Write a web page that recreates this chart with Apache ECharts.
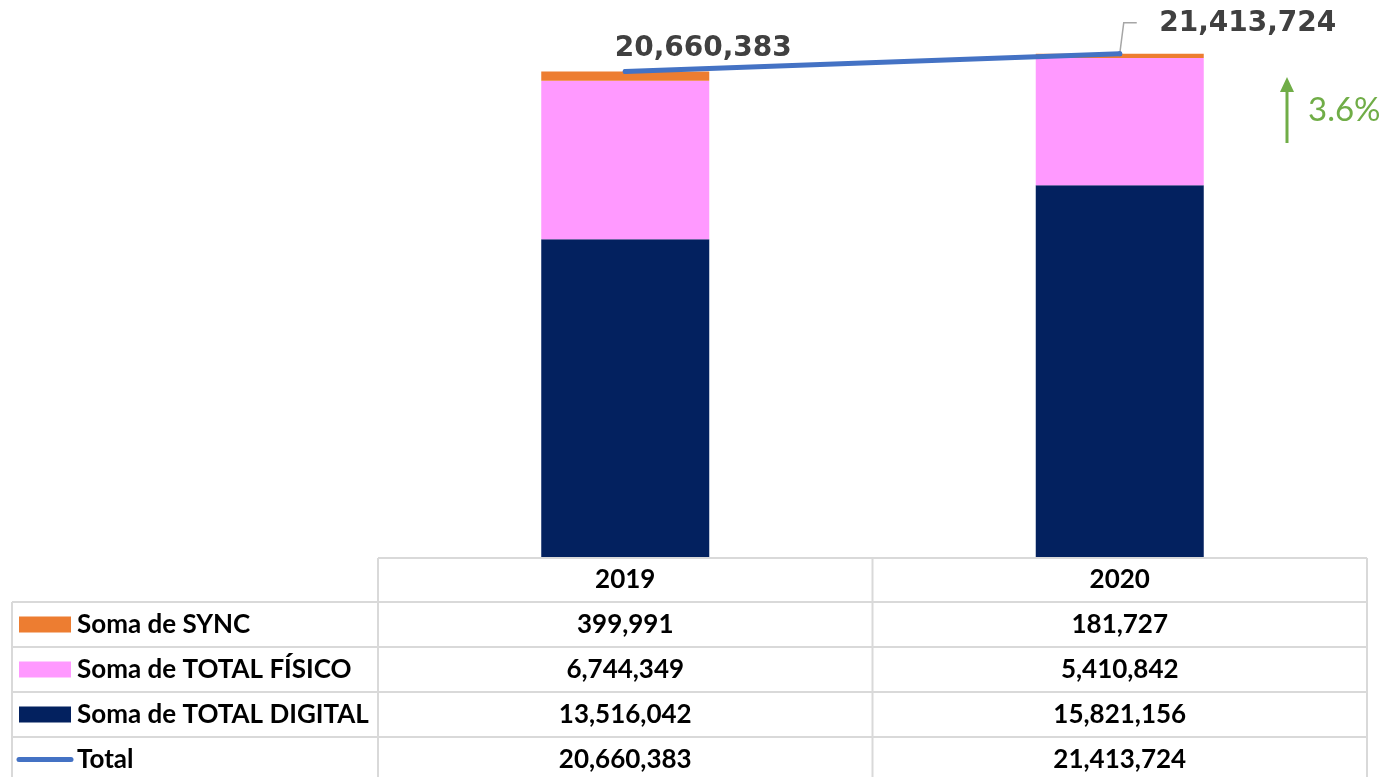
<!DOCTYPE html>
<html>
<head>
<meta charset="utf-8">
<style>
  html, body { margin: 0; padding: 0; background: #fff; }
  #main { width: 1385px; height: 777px; }
</style>
<script src="https://cdn.jsdelivr.net/npm/echarts@6/dist/echarts.min.js"></script>
</head>
<body>
<div id="main"></div>
<script>
var years = ['2019', '2020'];
var sync = [399991, 181727];
var fisico = [6744349, 5410842];
var digital = [13516042, 15821156];
var total = [20660383, 21413724];
var growth = '3.6%';
var rowNames = ['Soma de SYNC', 'Soma de TOTAL FÍSICO', 'Soma de TOTAL DIGITAL', 'Total'];

var colors = {
  sync: '#ED7D31',
  fisico: '#FF99FF',
  digital: '#03215F',
  total: '#4472C4'
};

function fmt(v) {
  return v.toLocaleString('en-US');
}

var myChart = echarts.init(document.getElementById('main'));

// table geometry
var tLeft = 12, tMid = 378, tRight = 1367;
var tTop = 558, headH = 44, rowH = 45;
var colW = (tRight - tMid) / years.length;
var lineCol = '#D9D9D9';
var tableFont = 'bold 26px Lato';

var graphic = [];
var rows = [
  { name: rowNames[0], vals: sync, color: colors.sync, kind: 'rect' },
  { name: rowNames[1], vals: fisico, color: colors.fisico, kind: 'rect' },
  { name: rowNames[2], vals: digital, color: colors.digital, kind: 'rect' },
  { name: rowNames[3], vals: total, color: colors.total, kind: 'line' }
];
var bodyTop = tTop + headH;
var tBottom = bodyTop + rowH * rows.length;

// horizontal lines
graphic.push({ type: 'line', shape: { x1: tMid, y1: tTop, x2: tRight, y2: tTop }, style: { stroke: lineCol, lineWidth: 2 } });
for (var r = 0; r <= rows.length; r++) {
  var yy = bodyTop + r * rowH;
  graphic.push({ type: 'line', shape: { x1: tLeft, y1: yy, x2: tRight, y2: yy }, style: { stroke: lineCol, lineWidth: 2 } });
}
// vertical lines
graphic.push({ type: 'line', shape: { x1: tLeft, y1: bodyTop, x2: tLeft, y2: tBottom }, style: { stroke: lineCol, lineWidth: 2 } });
for (var c = 0; c <= years.length; c++) {
  var xx = tMid + c * colW;
  graphic.push({ type: 'line', shape: { x1: xx, y1: tTop, x2: xx, y2: tBottom }, style: { stroke: lineCol, lineWidth: 2 } });
}
// header
years.forEach(function (y, i) {
  graphic.push({
    type: 'text', x: tMid + colW * (i + 0.5), y: tTop + headH / 2,
    style: { text: y, font: tableFont, fill: '#000', align: 'center', verticalAlign: 'middle' }
  });
});
// rows
rows.forEach(function (row, r) {
  var cy = bodyTop + rowH * r + rowH / 2;
  if (row.kind === 'rect') {
    graphic.push({ type: 'rect', shape: { x: 19, y: cy - 8, width: 52, height: 16 }, style: { fill: row.color } });
  } else {
    graphic.push({ type: 'line', shape: { x1: 19, y1: cy, x2: 71, y2: cy }, style: { stroke: row.color, lineWidth: 5, lineCap: 'round' } });
  }
  graphic.push({
    type: 'text', x: 77, y: cy,
    style: { text: row.name, font: tableFont, fill: '#000', align: 'left', verticalAlign: 'middle' }
  });
  row.vals.forEach(function (v, i) {
    graphic.push({
      type: 'text', x: tMid + colW * (i + 0.5), y: cy,
      style: { text: fmt(v), font: tableFont, fill: '#000', align: 'center', verticalAlign: 'middle' }
    });
  });
});

// growth arrow
graphic.push({ type: 'line', shape: { x1: 1287, y1: 143, x2: 1287, y2: 90 }, style: { stroke: '#70AD47', lineWidth: 3 } });
graphic.push({ type: 'polygon', shape: { points: [[1287, 77], [1280, 92], [1294, 92]] }, style: { fill: '#70AD47' } });
graphic.push({
  type: 'text', x: 1308, y: 110,
  style: { text: growth, font: '33px Lato', fill: '#70AD47', align: 'left', verticalAlign: 'middle' }
});

var labelShift = [[78, -1], [128, -9]];

var option = {
  backgroundColor: '#fff',
  animation: false,
  grid: { left: tMid, right: 1385 - tRight, top: 0, bottom: 777 - 557 },
  xAxis: {
    type: 'category',
    data: years,
    axisLine: { show: false },
    axisTick: { show: false },
    axisLabel: { show: false }
  },
  yAxis: {
    type: 'value',
    min: 0,
    max: 23700000,
    show: false,
    splitLine: { show: false }
  },
  series: [
    {
      name: rowNames[2], type: 'bar', stack: 'a', barWidth: 168,
      itemStyle: { color: colors.digital }, data: digital
    },
    {
      name: rowNames[1], type: 'bar', stack: 'a', barWidth: 168,
      itemStyle: { color: colors.fisico }, data: fisico
    },
    {
      name: rowNames[0], type: 'bar', stack: 'a', barWidth: 168,
      itemStyle: { color: colors.sync }, data: sync
    },
    {
      name: rowNames[3], type: 'line', z: 5,
      symbol: 'circle', symbolSize: 5, showSymbol: true,
      itemStyle: { color: colors.total },
      lineStyle: { color: colors.total, width: 5, cap: 'round' },
      data: total,
      label: {
        show: true,
        position: 'top',
        distance: 5,
        formatter: function (p) { return fmt(p.value); },
        fontFamily: 'DejaVu Sans',
        fontWeight: 'bold',
        fontSize: 28,
        color: '#404040'
      },
      labelLayout: function (p) {
        var s = labelShift[p.dataIndex];
        return { dx: s[0], dy: s[1] };
      }
    }
  ],
  graphic: graphic
};

myChart.setOption(option);

// leader line for the 2020 total label, anchored on the data point
var pt = myChart.convertToPixel({ seriesIndex: 3 }, [1, total[1]]);
graphic.push({
  type: 'polyline', z: 4,
  shape: { points: [[pt[0], pt[1]], [pt[0] + 4, pt[1] - 31], [pt[0] + 17, pt[1] - 31]] },
  style: { stroke: '#A6A6A6', lineWidth: 1.5, fill: null }
});
myChart.setOption({ graphic: graphic });
</script>
</body>
</html>
